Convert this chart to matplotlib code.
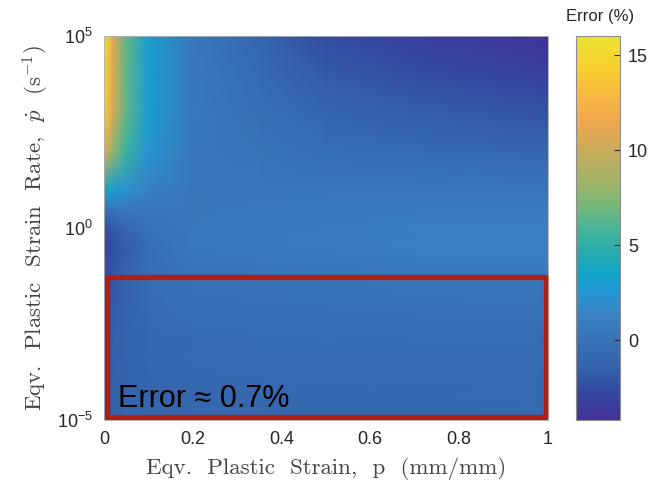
import matplotlib
matplotlib.use('Agg')
import matplotlib.pyplot as plt
import numpy as np
from matplotlib.colors import LinearSegmentedColormap
from matplotlib.patches import Rectangle
from matplotlib.ticker import NullLocator

plt.rcParams['font.family'] = ['Liberation Sans', 'DejaVu Sans']
plt.rcParams['mathtext.fontset'] = 'cm'

# grid: strain (mm/mm) and log10 of strain rate (1/s)
strain = [0.0, 0.02, 0.05, 0.1, 0.2, 0.35, 0.5, 0.7, 1.0]
log_rate = [-5, -3, -1.3, -0.5, 0, 0.5, 1, 2, 3, 4, 5]

# error (%) for each strain column, from 1e-5 up to 1e5
err_p000 = [-1.5, -1.7, -2.4, -3.0, -2.5, 0.0, 4.0, 11.0, 14.5, 15.5, 16.0]
err_p002 = [-1.4, -1.5, -2.0, -2.5, -1.8, 0.3, 3.0, 8.0, 10.5, 11.0, 11.0]
err_p005 = [-1.2, -1.2, -1.2, -1.6, -1.0, 0.5, 2.2, 5.5, 6.5, 6.5, 6.5]
err_p010 = [-1.1, -0.9, -0.4, -0.3, 0.0, 0.4, 1.2, 2.5, 3.0, 3.0, 3.0]
err_p020 = [-1.0, -0.7, 0.0, 0.5, 0.5, 0.4, 0.4, 0.5, 0.6, 0.6, 0.5]
err_p035 = [-0.9, -0.6, 0.1, 0.8, 0.8, 0.6, 0.3, 0.1, -0.2, -0.6, -1.0]
err_p050 = [-0.9, -0.6, 0.2, 1.0, 0.9, 0.7, 0.3, -0.3, -1.0, -1.8, -2.5]
err_p070 = [-0.9, -0.6, 0.3, 1.2, 1.1, 0.8, 0.3, -0.6, -1.6, -2.5, -3.2]
err_p100 = [-0.8, -0.5, 0.4, 1.2, 1.1, 0.8, 0.3, -1.0, -2.2, -3.2, -4.0]

err_min, err_max = -4.2, 16.0
box_label = 'Error \u2248 0.7%'

# parula-like colours as they appear in the (washed out) figure
cmap_pts = [0.0, 0.07, 0.13, 0.20, 0.28, 0.34, 0.38, 0.44, 0.50, 0.56, 0.62, 0.70, 0.78, 0.85, 0.92, 1.0]
cmap_cols = ['#44309a', '#3448a0', '#3360aa', '#3870b4', '#3a84c4', '#2298d4', '#12a4c8',
             '#28acac', '#48b498', '#78b878', '#a0b468', '#c8ab5c', '#f0a850', '#f9b840',
             '#f8d030', '#ece232']
cmap = LinearSegmentedColormap.from_list('parula_ish', list(zip(cmap_pts, cmap_cols)))

err = np.column_stack([err_p000, err_p002, err_p005, err_p010, err_p020,
                       err_p035, err_p050, err_p070, err_p100])
rate = 10.0 ** np.array(log_rate)

fig = plt.figure(figsize=(6.53, 4.96), dpi=100)
ax = fig.add_axes([0.159, 0.153, 0.680, 0.774])

mesh = ax.pcolormesh(strain, rate, err, shading='gouraud', cmap=cmap,
                     vmin=err_min, vmax=err_max, rasterized=True)

ax.set_yscale('log')
ax.set_xlim(0, 1)
ax.set_ylim(1e-5, 1e5)
ax.set_yticks([1e-5, 1e0, 1e5])
ax.yaxis.set_minor_locator(NullLocator())
ax.set_xticks([0, 0.2, 0.4, 0.6, 0.8, 1.0])
ax.set_xticklabels(['0', '0.2', '0.4', '0.6', '0.8', '1'])
ax.tick_params(length=0, pad=8, labelsize=13, colors='#262626')
for s in ax.spines.values():
    s.set_color('#b0b0b0')
    s.set_linewidth(0.6)

ax.set_xlabel('Eqv.  Plastic  Strain,  p  (mm/mm)', fontfamily='cmr10',
              fontsize=16.5, color='#444444', labelpad=6)
ax.set_ylabel(r'Eqv.  Plastic  Strain  Rate,  $\dot{p}$  (s$^{-1}$)', fontfamily='cmr10',
              fontsize=16.5, color='#444444', labelpad=4)

# highlighted low-rate region
box = Rectangle((0.007, 0.008), 0.988, 0.364, transform=ax.transAxes, fill=False,
                edgecolor='#b01e14', linewidth=3.8, joinstyle='round', clip_on=False)
ax.add_patch(box)
ax.text(0.032, 0.035, box_label, transform=ax.transAxes, fontsize=22,
        color='black', va='baseline', ha='left')

cax = fig.add_axes([0.882, 0.153, 0.067, 0.774])
cb = fig.colorbar(mesh, cax=cax, ticks=[0, 5, 10, 15])
cb.outline.set_edgecolor('#8c8c8c')
cb.outline.set_linewidth(0.8)
cax.tick_params(direction='in', length=4, width=0.8, labelsize=13, colors='#262626', pad=6)
fig.text(0.919, 0.966, 'Error (%)', ha='center', va='center', fontsize=12, color='#262626')

fig.savefig('out.png', dpi=100)
